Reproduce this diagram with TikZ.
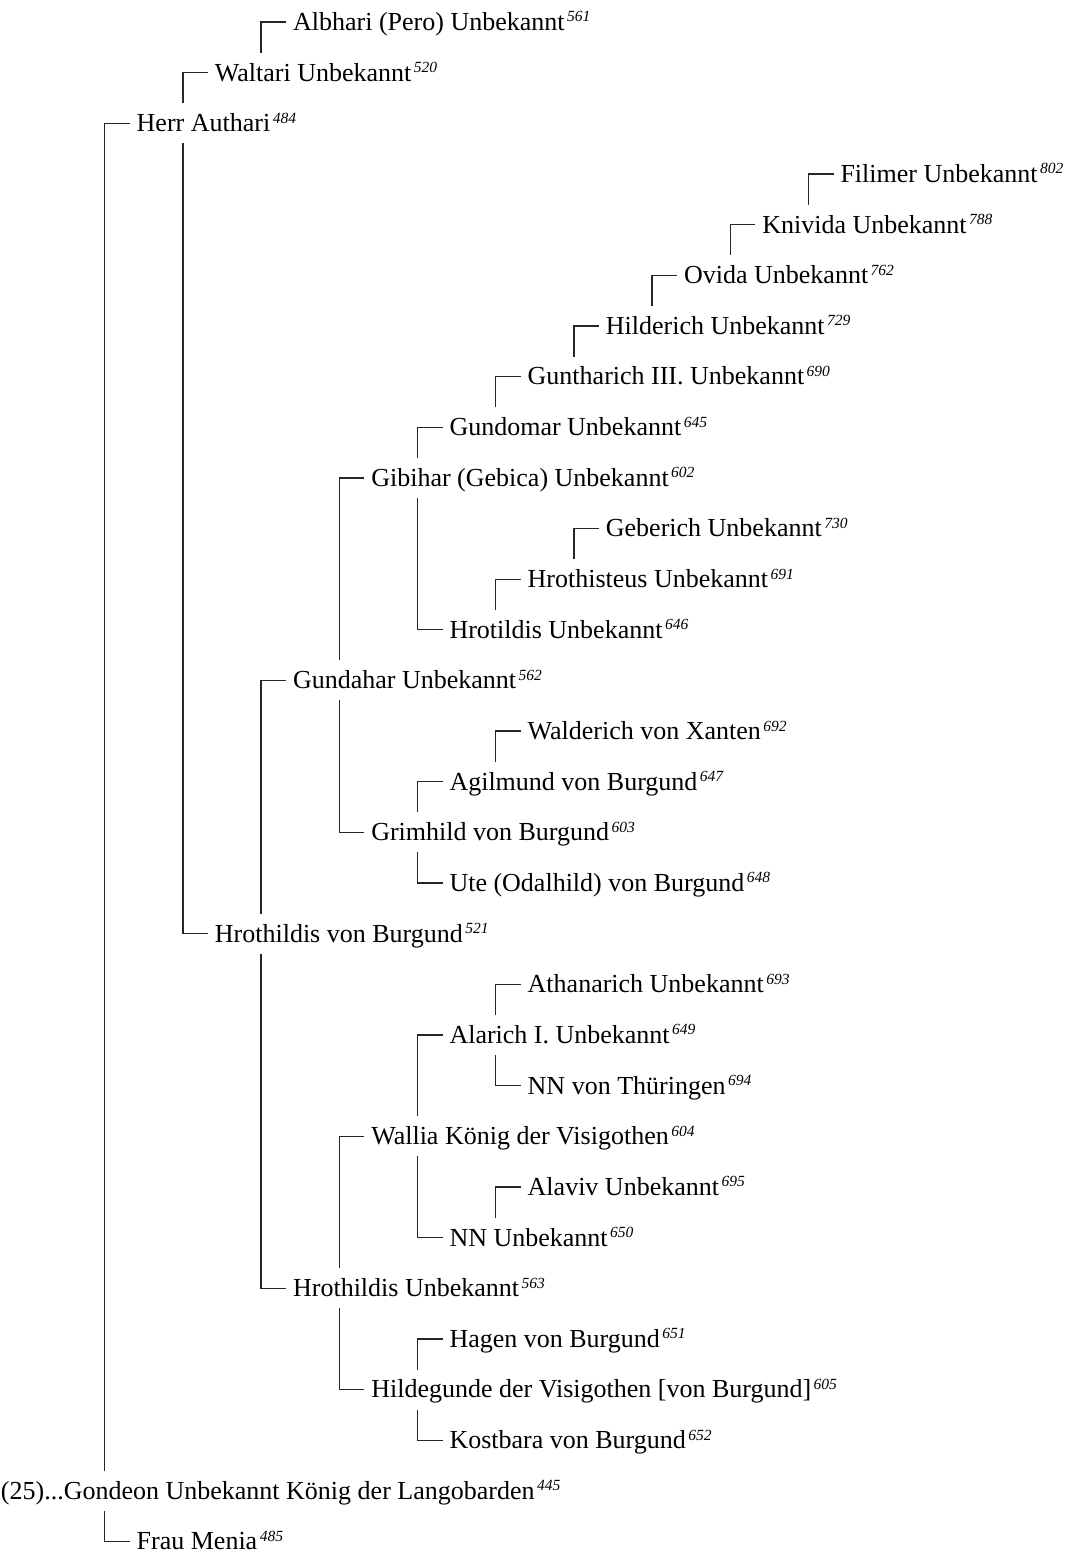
\documentclass[tikz,border=0pt]{standalone}
\usepackage{fontspec}
\setmainfont{Liberation Serif}
\newcommand\nr[1]{\kern2.5pt\raisebox{8.5pt}{\fontsize{15.5}{15.5}\selectfont\itshape #1}}
\newcommand\lnk[3]{\path ([xshift=-32pt]#1.west) coordinate (#1v);
  \draw[conn] ([xshift=-7pt]#1.west) -| (#1v |- #2.#3);}
\begin{document}
\begin{tikzpicture}[x=1pt,y=-1pt,
  person/.style={anchor=west,inner sep=0pt,outer sep=0pt,text height=28.4pt,text depth=11.6pt,font=\fontsize{26}{30}\selectfont},
  conn/.style={line width=1.3pt,black!85}]
\useasboundingbox (0,0) rectangle (1076,1555);
\def\X#1{58.5+78.2*#1}
\def\Y#1{22+50.65*#1}
\node[person] (p0)  at ({\X{3}},{\Y{0}})  {Albhari (Pero) Unbekannt\nr{561}};
\node[person] (p1)  at ({\X{2}},{\Y{1}})  {Waltari Unbekannt\nr{520}};
\node[person] (p2)  at ({\X{1}},{\Y{2}})  {Herr Authari\nr{484}};
\node[person] (p3)  at ({\X{10}},{\Y{3}}) {Filimer Unbekannt\nr{802}};
\node[person] (p4)  at ({\X{9}},{\Y{4}})  {Knivida Unbekannt\nr{788}};
\node[person] (p5)  at ({\X{8}},{\Y{5}})  {Ovida Unbekannt\nr{762}};
\node[person] (p6)  at ({\X{7}},{\Y{6}})  {Hilderich Unbekannt\nr{729}};
\node[person] (p7)  at ({\X{6}},{\Y{7}})  {Guntharich III. Unbekannt\nr{690}};
\node[person] (p8)  at ({\X{5}},{\Y{8}})  {Gundomar Unbekannt\nr{645}};
\node[person] (p9)  at ({\X{4}},{\Y{9}})  {Gibihar (Gebica) Unbekannt\nr{602}};
\node[person] (p10) at ({\X{7}},{\Y{10}}) {Geberich Unbekannt\nr{730}};
\node[person] (p11) at ({\X{6}},{\Y{11}}) {Hrothisteus Unbekannt\nr{691}};
\node[person] (p12) at ({\X{5}},{\Y{12}}) {Hrotildis Unbekannt\nr{646}};
\node[person] (p13) at ({\X{3}},{\Y{13}}) {Gundahar Unbekannt\nr{562}};
\node[person] (p14) at ({\X{6}},{\Y{14}}) {Walderich von Xanten\nr{692}};
\node[person] (p15) at ({\X{5}},{\Y{15}}) {Agilmund von Burgund\nr{647}};
\node[person] (p16) at ({\X{4}},{\Y{16}}) {Grimhild von Burgund\nr{603}};
\node[person] (p17) at ({\X{5}},{\Y{17}}) {Ute (Odalhild) von Burgund\nr{648}};
\node[person] (p18) at ({\X{2}},{\Y{18}}) {Hrothildis von Burgund\nr{521}};
\node[person] (p19) at ({\X{6}},{\Y{19}}) {Athanarich Unbekannt\nr{693}};
\node[person] (p20) at ({\X{5}},{\Y{20}}) {Alarich I. Unbekannt\nr{649}};
\node[person] (p21) at ({\X{6}},{\Y{21}}) {NN von Thüringen\nr{694}};
\node[person] (p22) at ({\X{4}},{\Y{22}}) {Wallia König der Visigothen\nr{604}};
\node[person] (p23) at ({\X{6}},{\Y{23}}) {Alaviv Unbekannt\nr{695}};
\node[person] (p24) at ({\X{5}},{\Y{24}}) {NN Unbekannt\nr{650}};
\node[person] (p25) at ({\X{3}},{\Y{25}}) {Hrothildis Unbekannt\nr{563}};
\node[person] (p26) at ({\X{5}},{\Y{26}}) {Hagen von Burgund\nr{651}};
\node[person] (p27) at ({\X{4}},{\Y{27}}) {Hildegunde der Visigothen [von Burgund]\nr{605}};
\node[person] (p28) at ({\X{5}},{\Y{28}}) {Kostbara von Burgund\nr{652}};
\node[person] (p29) at (1,{\Y{29}})       {(25)...Gondeon Unbekannt König der Langobarden\nr{445}};
\node[person] (p30) at ({\X{1}},{\Y{30}}) {Frau Menia\nr{485}};
% fathers (above) and mothers (below)
\lnk{p2}{p29}{north}
\lnk{p30}{p29}{south}
\lnk{p1}{p2}{north}
\lnk{p18}{p2}{south}
\lnk{p0}{p1}{north}
\lnk{p13}{p18}{north}
\lnk{p25}{p18}{south}
\lnk{p9}{p13}{north}
\lnk{p16}{p13}{south}
\lnk{p8}{p9}{north}
\lnk{p12}{p9}{south}
\lnk{p7}{p8}{north}
\lnk{p6}{p7}{north}
\lnk{p5}{p6}{north}
\lnk{p4}{p5}{north}
\lnk{p3}{p4}{north}
\lnk{p11}{p12}{north}
\lnk{p10}{p11}{north}
\lnk{p15}{p16}{north}
\lnk{p17}{p16}{south}
\lnk{p14}{p15}{north}
\lnk{p22}{p25}{north}
\lnk{p27}{p25}{south}
\lnk{p20}{p22}{north}
\lnk{p24}{p22}{south}
\lnk{p19}{p20}{north}
\lnk{p21}{p20}{south}
\lnk{p23}{p24}{north}
\lnk{p26}{p27}{north}
\lnk{p28}{p27}{south}
\end{tikzpicture}
\end{document}
